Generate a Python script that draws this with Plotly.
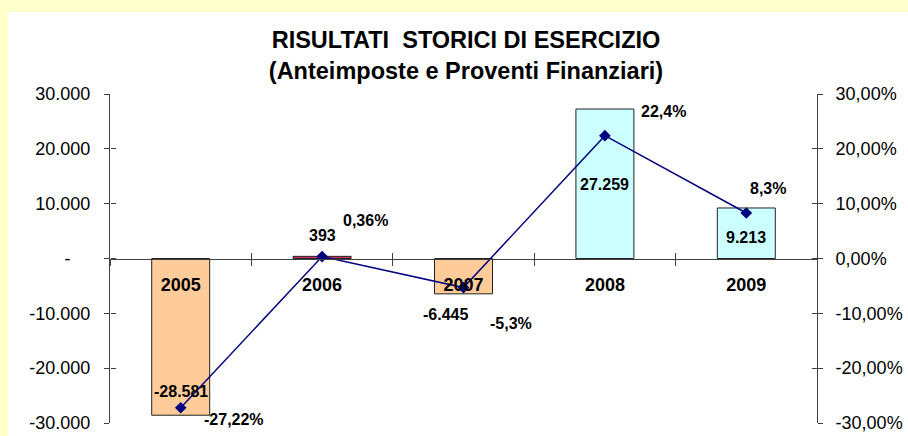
import plotly.graph_objects as go

# ---------------- data ----------------
years = ["2005", "2006", "2007", "2008", "2009"]
risultati = [-28581, 393, -6445, 27259, 9213]
risultati_labels = ["-28.581", "393", "-6.445", "27.259", "9.213"]
percentuali = [-27.22, 0.36, -5.3, 22.4, 8.3]
percent_labels = ["-27,22%", "0,36%", "-5,3%", "22,4%", "8,3%"]

left_tickvals = [-30000, -20000, -10000, 0, 10000, 20000, 30000]
left_ticktext = ["-30.000", "-20.000", "-10.000", "-\u00a0\u00a0\u00a0\u00a0", "10.000", "20.000", "30.000"]
right_tickvals = [-30, -20, -10, 0, 10, 20, 30]
right_ticktext = ["-30,00%", "-20,00%", "-10,00%", "0,00%", "10,00%", "20,00%", "30,00%"]

# ---------------- styles ----------------
bar_colors = ["#FFCC99", "#CC3366", "#FFCC99", "#CCFFFF", "#CCFFFF"]
bar_label_shift = [(0, 24), (0, 21), (-18, -21), (0, -75), (0, -30)]
pct_label_shift = [(53, -12), (43, 36), (47, -36), (59, 24), (22, 24)]
FONT = "Liberation Sans, Arial, sans-serif"
AX = "#404040"

W, H = 908, 436
L, R, T, B = 110, 91, 94, 13
pw, ph = W - L - R, H - T - B

fig = go.Figure()
fig.add_trace(go.Bar(x=years, y=risultati, marker=dict(color=bar_colors, line=dict(color="#222222", width=1)),
                     showlegend=False, hoverinfo="skip"))
fig.add_trace(go.Scatter(x=years, y=percentuali, yaxis="y2", mode="lines+markers",
                         line=dict(color="#000080", width=1.5),
                         marker=dict(symbol="diamond", size=9, color="#000080"),
                         showlegend=False, hoverinfo="skip"))
# invisible helper traces so the tick-crossing overlay axes are drawn
fig.add_trace(go.Scatter(x=years, y=[None] * len(years), xaxis="x2", yaxis="y3", showlegend=False, hoverinfo="skip"))
fig.add_trace(go.Scatter(x=years, y=[None] * len(years), xaxis="x2", yaxis="y4", showlegend=False, hoverinfo="skip"))

annotations = []
for i in range(len(years)):
    annotations.append(dict(x=i, y=risultati[i], xref="x", yref="y", text="<b>%s</b>" % risultati_labels[i],
                            showarrow=False, xshift=bar_label_shift[i][0], yshift=bar_label_shift[i][1],
                            font=dict(family=FONT, size=16, color="black")))
    annotations.append(dict(x=i, y=percentuali[i], xref="x", yref="y2", text="<b>%s</b>" % percent_labels[i],
                            showarrow=False, xshift=pct_label_shift[i][0], yshift=pct_label_shift[i][1],
                            font=dict(family=FONT, size=16, color="black")))

fig.update_layout(
    width=W, height=H,
    margin=dict(l=L, r=R, t=T, b=B, pad=0, autoexpand=False),
    paper_bgcolor="#FFFFCC",
    plot_bgcolor="white",
    bargap=0.59,
    font=dict(family=FONT, size=18, color="black"),
    title=dict(text="<b>RISULTATI \u00a0STORICI DI ESERCIZIO</b><br><b>(Anteimposte e Proventi Finanziari)</b>",
               x=466 / W, xref="container", xanchor="center",
               y=1 - 48 / H, yref="container", yanchor="middle",
               font=dict(family=FONT, size=23.5, color="black")),
    xaxis=dict(type="category", range=[-0.5, 4.5], anchor="free", position=0.5, showline=True,
               linecolor=AX, linewidth=1,
               ticks="outside", ticklen=6, tickcolor=AX, tickson="boundaries",
               showgrid=False, zeroline=False, ticklabelstandoff=10,
               tickfont=dict(family=FONT, size=18, color="black"),
               tickprefix="<b>", ticksuffix="</b>"),
    xaxis2=dict(type="category", range=[-0.5, 4.5], overlaying="x", anchor="free", position=0.5,
                ticks="inside", ticklen=6, tickcolor=AX, tickson="boundaries", showticklabels=False,
                showgrid=False, zeroline=False, showline=False),
    yaxis=dict(range=[-30000, 30000], tickmode="array", tickvals=left_tickvals, ticktext=left_ticktext,
               showline=True, linecolor=AX, ticks="outside", ticklen=5, tickcolor=AX,
               showgrid=False, zeroline=False, ticklabelstandoff=10, ticklabeloverflow="allow"),
    yaxis3=dict(overlaying="y", side="left", anchor="free", position=0, range=[-30000, 30000],
                tickmode="array", tickvals=left_tickvals, ticks="inside", ticklen=5, tickcolor=AX,
                showticklabels=False, showgrid=False, zeroline=False, showline=False),
    yaxis2=dict(overlaying="y", side="right", anchor="x", range=[-30, 30], tickmode="array",
                tickvals=right_tickvals, ticktext=right_ticktext,
                showline=True, linecolor=AX, ticks="outside", ticklen=5, tickcolor=AX,
                showgrid=False, zeroline=False, ticklabelstandoff=9, ticklabeloverflow="allow"),
    yaxis4=dict(overlaying="y", side="right", anchor="free", position=1, range=[-30, 30],
                tickmode="array", tickvals=right_tickvals, ticks="inside", ticklen=5, tickcolor=AX,
                showticklabels=False, showgrid=False, zeroline=False, showline=False),
    annotations=annotations,
    shapes=[dict(type="rect", xref="paper", yref="paper", layer="below",
                 x0=(8 - L) / pw, x1=(W + 10 - L) / pw, y0=-0.2, y1=(H - B - 12) / ph,
                 fillcolor="white", line=dict(width=0)),
            dict(type="rect", xref="paper", yref="paper", layer="above",
                 x0=(W - 5 - L) / pw, x1=(W + 10 - L) / pw, y0=-0.2, y1=(H - B - 12) / ph,
                 fillcolor="white", line=dict(width=0))],
)

fig.write_html("out.html", config={"displayModeBar": False},
               post_script="document.body.style.margin='0';document.body.style.background='white';"
                           "document.body.style.overflow='hidden';")
